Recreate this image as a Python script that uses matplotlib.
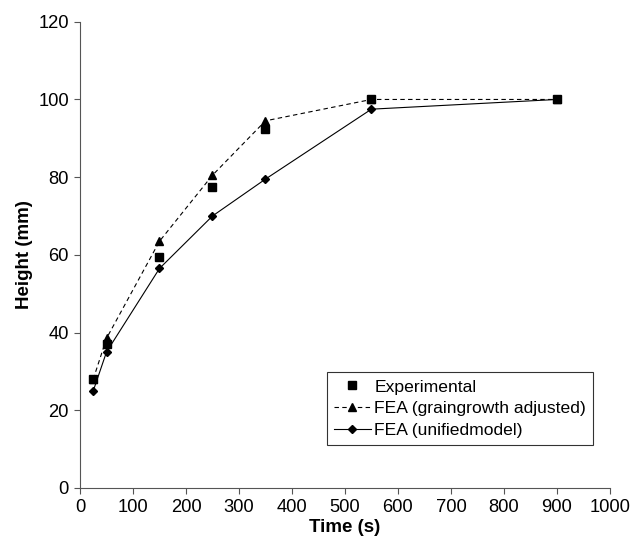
import numpy as np
import matplotlib.pyplot as plt

plt.rcParams['font.family'] = ['Liberation Sans', 'DejaVu Sans']

# time (s) and specimen height (mm)
time_exp = [25, 50, 150, 250, 350, 550, 900]
height_exp = [28, 37, 59.5, 77.5, 92.5, 100, 100]

time_fea = [25, 50, 150, 250, 350, 550, 900]
height_grain = [28, 38.5, 63.5, 80.5, 94.5, 100, 100]
height_unified = [25, 35, 56.5, 70, 79.5, 97.5, 100]

fig = plt.figure(figsize=(6.3, 5.44), dpi=100)
ax = fig.add_axes([0.127, 0.103, 0.841, 0.857])

ax.plot(time_exp, height_exp, linestyle='none', marker='s', color='black',
        markersize=5.5, label='Experimental', zorder=4)
ax.plot(time_fea, height_grain, linestyle=(0, (4, 3)), linewidth=0.8, color='black',
        marker='^', markersize=6, label='FEA (graingrowth adjusted)', zorder=3)
ax.plot(time_fea, height_unified, linestyle='-', linewidth=0.8, color='black',
        marker='D', markersize=4, label='FEA (unifiedmodel)', zorder=3)

ax.set_xlim(0, 1000)
ax.set_ylim(0, 120)
ax.set_xticks(np.arange(0, 1001, 100))
ax.set_yticks(np.arange(0, 121, 20))
ax.spines['top'].set_visible(False)
ax.spines['right'].set_visible(False)
ax.spines['left'].set_color('#555555')
ax.spines['bottom'].set_color('#555555')
ax.tick_params(direction='out', length=4, color='#555555', labelsize=13.2, pad=4)

ax.set_xlabel('Time (s)', fontsize=13.5, fontweight='bold', labelpad=2)
ax.set_ylabel('Height (mm)', fontsize=13.5, fontweight='bold', labelpad=4)

leg = ax.legend(loc='lower left', bbox_to_anchor=(327 / 630, 1 - 445 / 544),
                bbox_transform=fig.transFigure, fontsize=12.6, frameon=True,
                fancybox=False, edgecolor='black', borderpad=0.4,
                handlelength=2.1, handletextpad=0.2, labelspacing=0.37,
                borderaxespad=0)
leg.get_frame().set_linewidth(0.8)

fig.savefig('out.png', dpi=100)
